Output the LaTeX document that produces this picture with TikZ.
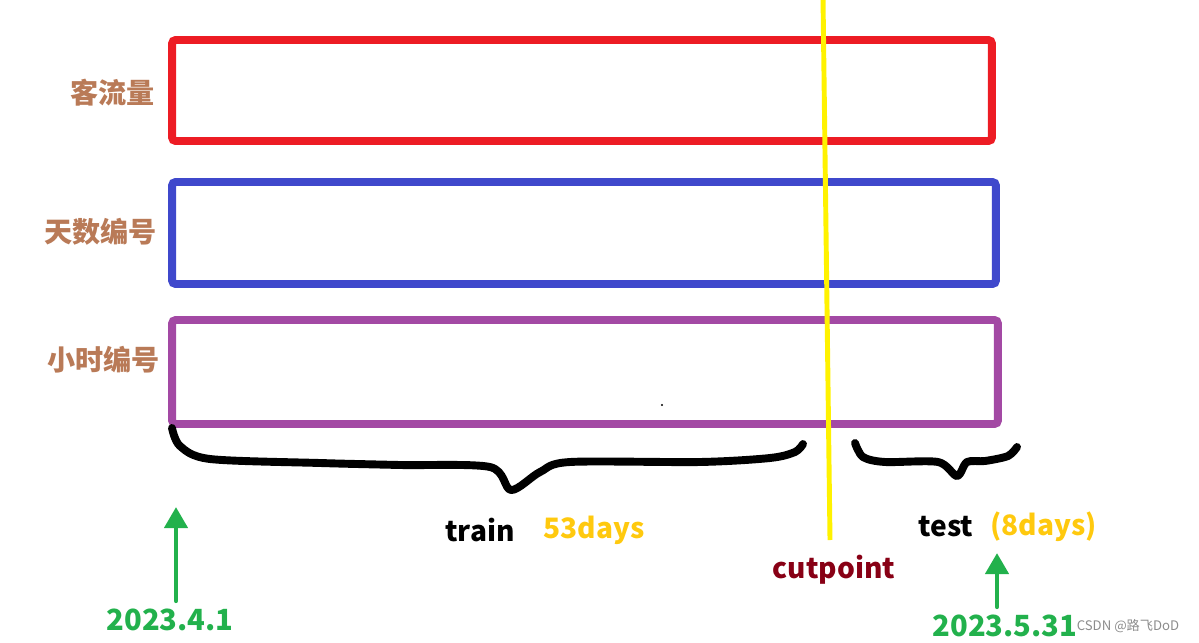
\documentclass[tikz,border=0pt]{standalone}
\usepackage{fontspec}
\setmainfont{Noto Sans CJK SC}
\usetikzlibrary{
  arrows.meta,
  positioning
}
\definecolor{boxred}{HTML}{ED1C24}
\definecolor{boxblue}{HTML}{3F48CC}
\definecolor{boxpurple}{HTML}{A349A4}
\definecolor{labelbrown}{HTML}{B97A57}
\definecolor{cutyellow}{HTML}{FFF200}
\definecolor{cutred}{HTML}{880015}
\definecolor{dategreen}{HTML}{22B14C}
\definecolor{daysyellow}{HTML}{FFC90E}
\definecolor{marktext}{HTML}{8C8C8C}
\tikzset{
  databox/.style={
    draw=#1,
    line width=4.5pt,
    rounded corners=2pt,
    inner sep=0pt,
  },
  rowlabel/.style={
    font=\bfseries\fontsize{16}{18}\selectfont,
    text=labelbrown,
    anchor=east,
    inner sep=0pt,
  },
  tag/.style={
    font=\bfseries\fontsize{16}{18}\selectfont,
    inner sep=0pt,
  },
  datetag/.style={
    font=\bfseries\fontsize{16.6}{19}\selectfont,
    text=dategreen,
    inner sep=0pt,
  },
  brace/.style={
    line width=4.5pt,
    line cap=round,
    line join=round,
  },
  datearrow/.style={
    -{Triangle[length=12pt, width=13pt]},
    line width=2.8pt,
    line cap=round,
    draw=dategreen,
  },
  cutline/.style={
    line width=2.8pt,
    draw=cutyellow,
  },
}

\begin{document}
\begin{tikzpicture}[x=0.02cm, y=-0.02cm]
\useasboundingbox (0,0) rectangle (1199,642);

% === DATA ROWS ===

\node[databox=boxred, minimum width=16.4cm, minimum height=2.02cm]
  (flow) at (582,90.5) {};
\node[databox=boxblue, minimum width=16.48cm, minimum height=2.04cm]
  (daynum) at (584,233) {};
\node[databox=boxpurple, minimum width=16.52cm, minimum height=2.08cm]
  (hournum) at (585,372) {};

\node[rowlabel] (flowlab) at (155,93) {客流量};
\node[rowlabel] (daylab) at (157,232) {天数编号};
\node[rowlabel] (hourlab) at (160,360) {小时编号};

\fill (662,405) circle (1.2);

% === BRACES ===

\draw[brace] plot[smooth, tension=0.5] coordinates {
  (172,428) (180,446) (210,459) (320,463) (400,465) (490,467)
  (511,490) (540,472) (570,462) (700,462) (770,458) (795,452) (803,444)};
\draw[brace] plot[smooth, tension=0.5] coordinates {
  (855,443) (863,457) (885,462) (938,462) (957,476) (967,462)
  (985,461) (1008,456) (1017,447)};

% === CUT POINT ===

\coordinate (cuttop) at (823,-2);
\coordinate (cutbot) at (830,540);
\draw[cutline] (cuttop) -- (cutbot);
\node[tag, text=cutred] (cut) at (834,570) {cutpoint};

% === SPLIT TAGS ===

\node[tag] (train) at (480,530) {train};
\node[tag, text=daysyellow, right=0.56cm of train] (traindays) {53days};
\node[tag] (test) at (946,527) {test};
\node[tag, text=daysyellow, right=0.32cm of test] (testdays) {(8days)};

% === DATES ===

\node[datetag] (start) at (170,620) {2023.4.1};
\node[datetag] (end) at (1005,626) {2023.5.31};
\coordinate (starttip) at (176,507);
\coordinate (endtip) at (997,553);
\draw[datearrow] (start.north -| starttip) ++(0,-8) -- (starttip);
\draw[datearrow] (end.north -| endtip) ++(0,-8) -- (endtip);

\node[font=\fontsize{7.5}{9}\selectfont, text=marktext, inner sep=0pt]
  (mark) at (1128,626) {CSDN @路飞DoD};

\end{tikzpicture}
\end{document}
